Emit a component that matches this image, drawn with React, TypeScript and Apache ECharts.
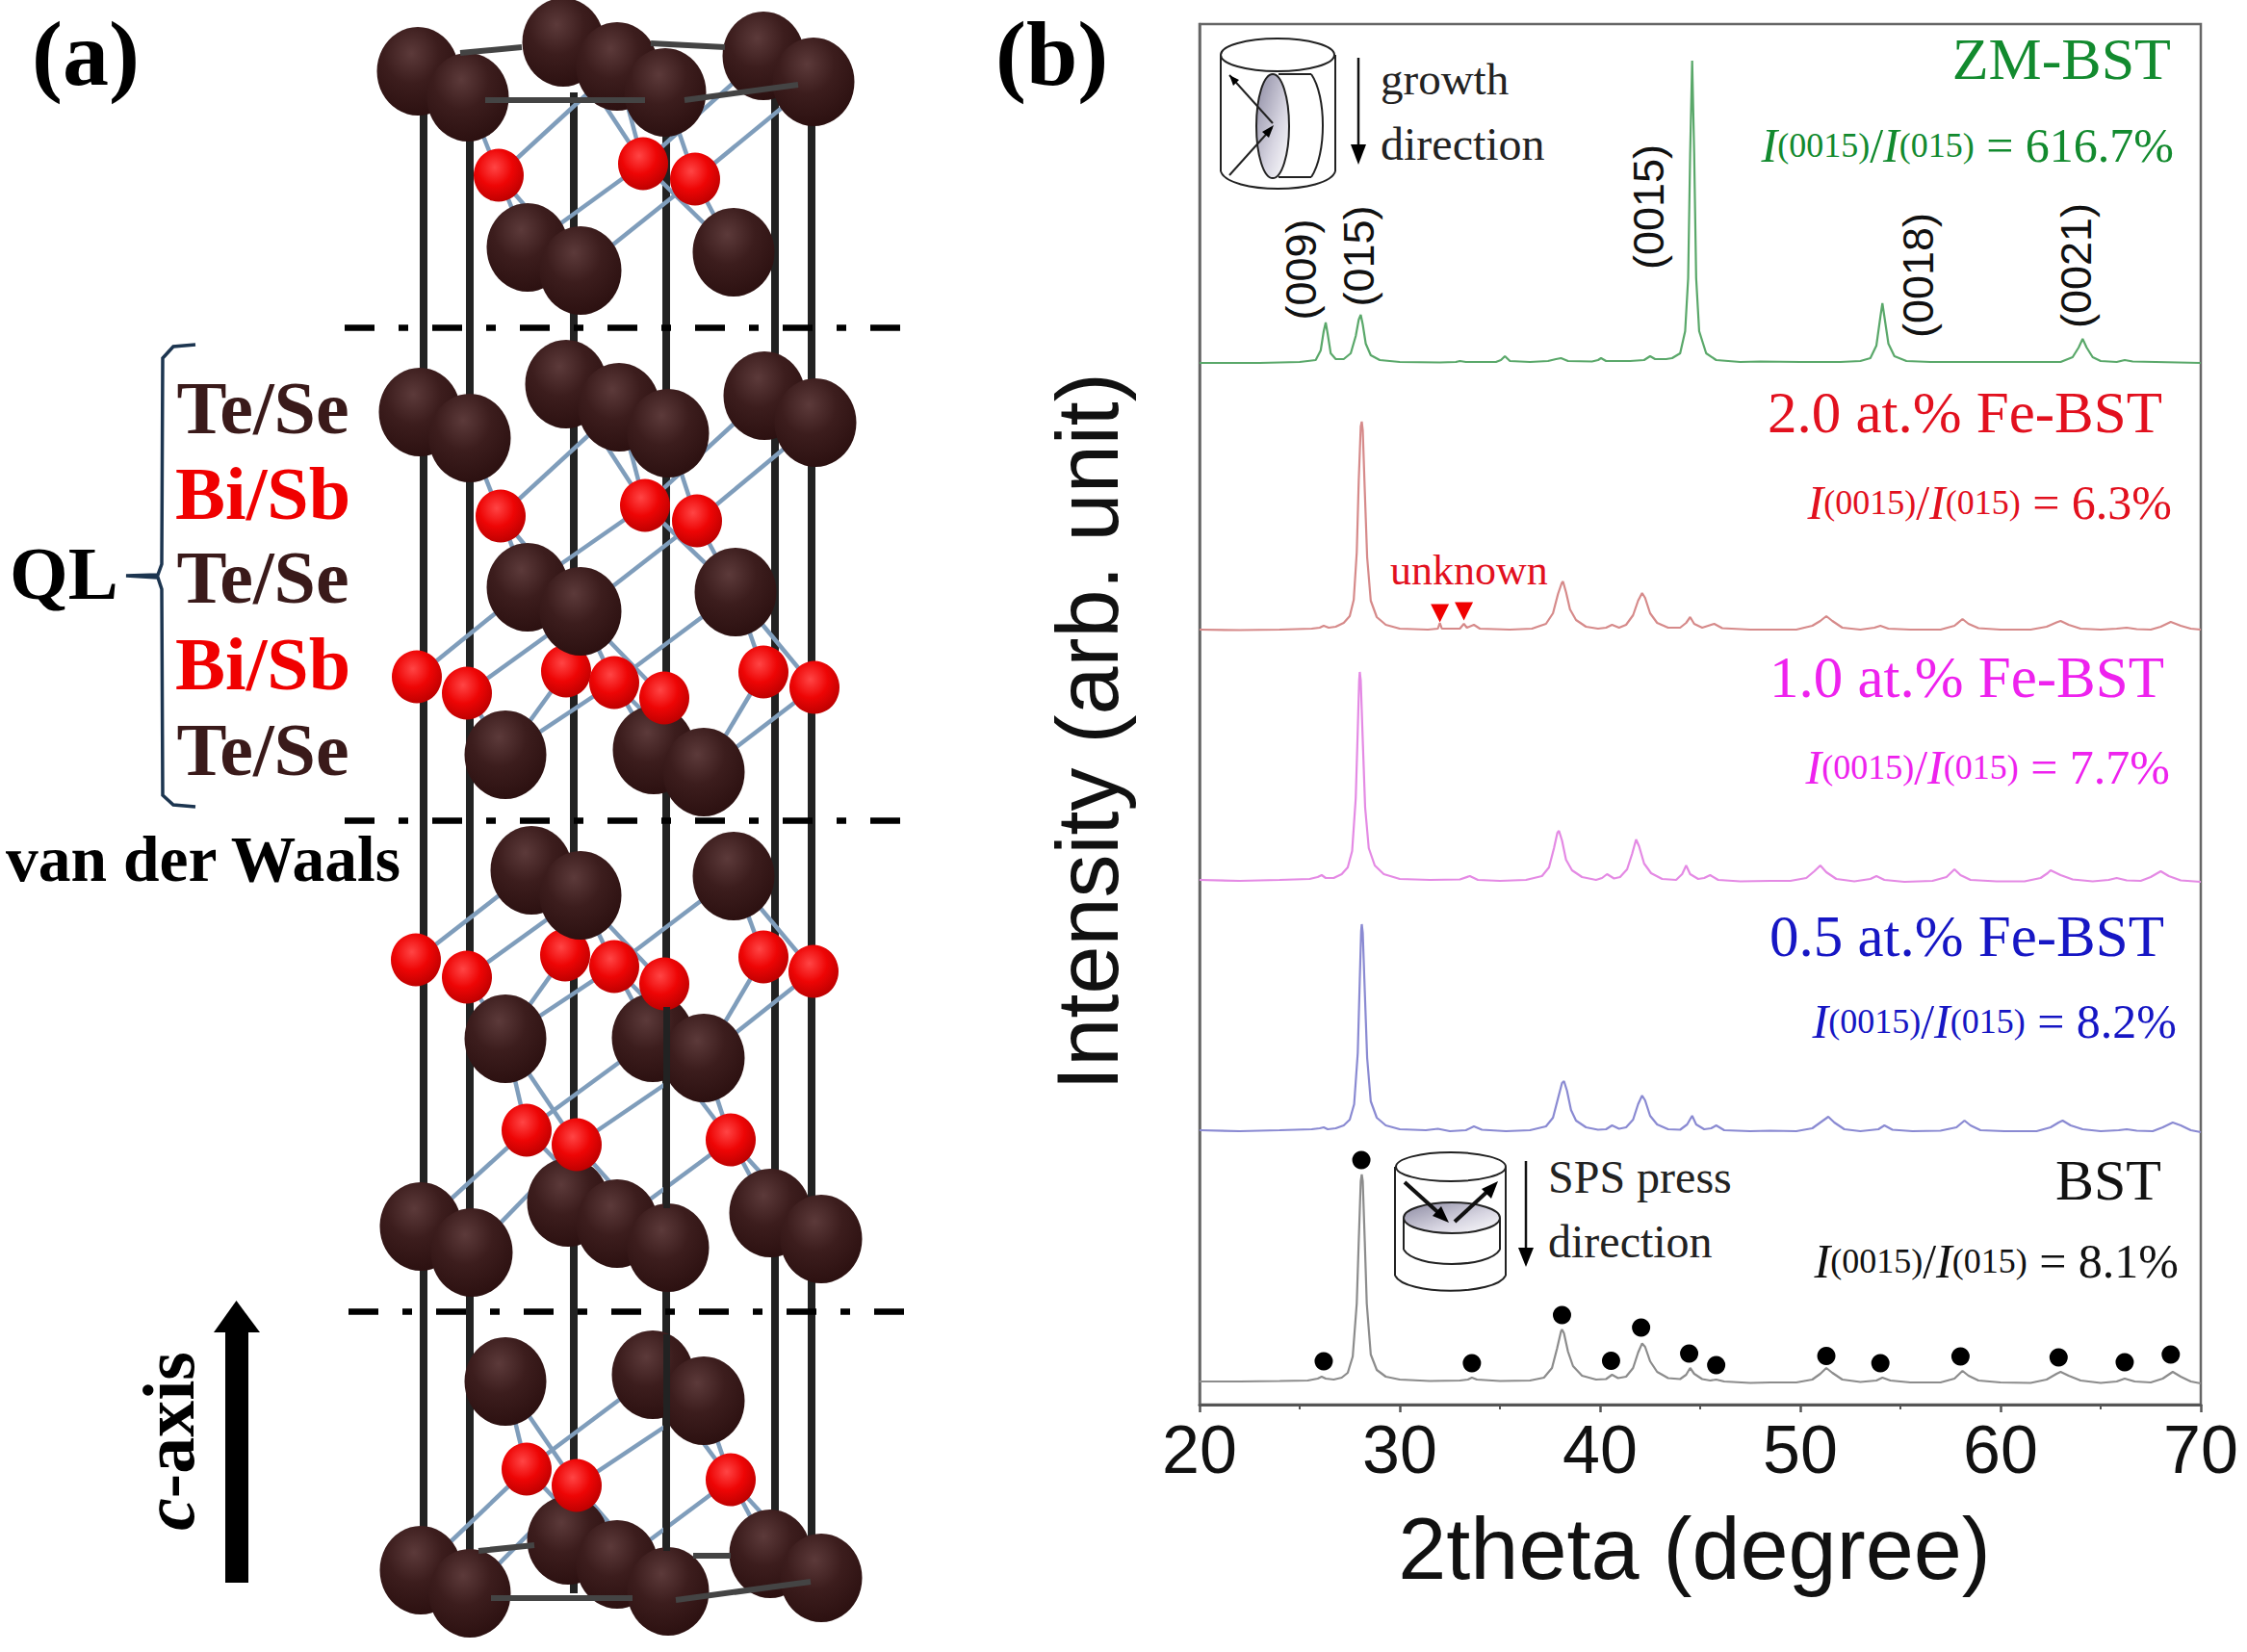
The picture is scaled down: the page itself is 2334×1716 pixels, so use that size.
import React, { useEffect, useRef } from "react";
import * as echarts from "echarts";

// ---------- panel (b): diffraction curves, [2theta, intensity] ----------
const bstCurve = [[20,24],[22,24],[24,24.5],[25.4,25],[25.9,27],[26.1,29],[26.3,27],[26.7,26],[27.1,28],[27.4,33],[27.65,50],[27.85,105],[27.95,170],[28.05,232],[28.1,239],[28.15,232],[28.25,170],[28.35,105],[28.55,52],[28.85,36],[29.3,29],[30,26],[31.5,24.5],[33,25],[33.4,26],[33.6,28],[33.85,26],[35,24.5],[36.5,25],[37.2,28],[37.6,38],[37.85,58],[38.05,76],[38.1,78],[38.2,74],[38.4,55],[38.65,40],[39.1,30],[39.8,26],[40.3,26.5],[40.6,31],[40.9,27.5],[41.3,29],[41.65,38],[41.9,54],[42.1,63.5],[42.25,60],[42.5,45],[42.85,34],[43.4,27.5],[44,26.5],[44.3,31],[44.5,38],[44.7,32],[45.1,26.5],[45.5,25],[45.8,26],[46.2,24],[47.5,22.5],[48.5,23],[49.8,23],[50.6,26],[51,32],[51.3,38],[51.6,33],[52.1,26],[53,23.5],[53.8,25],[54.1,28],[54.5,25],[55.5,23],[57,23],[57.7,27],[58.1,35],[58.4,30],[58.9,25],[60,23],[61.5,22.5],[62.3,26],[62.8,32],[63,34],[63.4,30],[64,25],[65,22.5],[65.8,24],[66.2,27],[66.7,24],[67.5,23],[68.1,27],[68.6,34],[69,29],[69.5,24],[70,22]];
const fe05Curve = [[20,285],[22,284],[24,285],[25.6,286],[26,287],[26.2,288],[26.4,286],[26.8,287],[27.2,290],[27.5,296],[27.72,312],[27.9,365],[28,440],[28.07,492],[28.1,499],[28.15,490],[28.25,430],[28.37,360],[28.55,315],[28.85,298],[29.3,290],[30,286],[31.3,285],[31.9,286.5],[32.5,284],[33.3,285],[33.7,289],[34.1,285.5],[35.3,284],[36.5,285],[37.3,289],[37.65,298],[37.9,318],[38.1,334],[38.2,336],[38.35,326],[38.55,306],[38.8,295],[39.3,288],[39.9,285.5],[40.3,286],[40.6,290],[40.95,286.5],[41.3,288],[41.65,296],[41.9,312],[42.1,321],[42.25,316],[42.5,300],[42.85,291],[43.4,286],[44,285.5],[44.35,291],[44.6,300],[44.8,291],[45.2,286],[45.55,287],[45.8,290],[46.2,285],[47.5,284],[48.5,284.5],[49.8,284],[50.6,287],[51,293],[51.4,299],[51.7,293],[52.2,286],[53,284],[53.9,286],[54.2,290],[54.6,285.5],[55.6,284],[57,284.5],[57.8,288],[58.2,295],[58.5,290],[59,285],[60.2,284],[61.8,284],[62.5,288],[62.9,293],[63.1,295],[63.5,290],[64.1,286],[65,284],[65.9,285],[66.3,286],[66.8,284.5],[67.6,284],[68.1,288],[68.6,293],[69,290],[69.5,285],[70,283]];
const fe10Curve = [[20,545],[22,544],[24,545],[25.5,546],[25.9,548],[26.1,550],[26.3,547],[26.7,547],[27.1,551],[27.4,558],[27.62,575],[27.8,630],[27.9,700],[27.97,752],[28,761],[28.05,752],[28.15,690],[28.27,620],[28.45,578],[28.75,560],[29.2,551],[30,546],[31.5,545],[33,545.5],[33.5,549],[33.9,545],[35,544],[36.3,545],[37.1,549],[37.45,558],[37.7,578],[37.87,594],[37.95,596],[38.1,586],[38.3,566],[38.6,555],[39.1,548],[39.8,545],[40.1,547],[40.35,551],[40.7,546.5],[41,548],[41.35,556],[41.6,572],[41.8,587],[41.95,580],[42.2,562],[42.55,552],[43.1,546],[43.8,545],[44.1,551],[44.3,560],[44.5,551],[44.9,546],[45.2,547],[45.5,550],[45.9,545],[47,543.5],[48.5,544],[49.5,544],[50.3,547],[50.7,554],[51,560],[51.3,553],[51.8,546],[52.7,543.5],[53.5,546],[53.8,549],[54.2,545],[55.2,543],[56.6,544],[57.3,548],[57.7,556],[58,550],[58.5,545],[59.8,543.5],[61.2,543.5],[62,547],[62.35,552],[62.5,555],[63,550],[63.6,545.5],[64.6,543.5],[65.4,545],[65.8,547],[66.3,544.5],[67,544],[67.5,548],[68,554],[68.4,549],[69,544.5],[70,543]];
const fe20Curve = [[20,805],[22,804.5],[24,805],[25.6,806],[26,807],[26.2,809],[26.45,807],[26.8,808],[27.2,812],[27.5,819],[27.7,836],[27.85,885],[27.95,960],[28.05,1016],[28.1,1021],[28.15,1012],[28.25,950],[28.37,880],[28.55,835],[28.85,818],[29.3,810],[30,806],[31.4,805],[31.9,806],[32,812],[32.1,806],[33,806],[33.2,811],[33.35,807],[33.7,810],[34,806],[35.5,805],[36.6,806],[37.3,811],[37.65,822],[37.9,842],[38.08,853],[38.15,855],[38.3,844],[38.5,826],[38.8,815],[39.3,808],[39.9,806],[40.3,807],[40.6,810],[40.95,807],[41.3,810],[41.65,820],[41.9,835],[42.1,843],[42.25,838],[42.5,822],[42.85,812],[43.4,807],[44,807],[44.3,812],[44.5,818],[44.7,811],[45.1,807],[45.4,809],[45.7,811],[46.1,806.5],[47.5,805],[48.5,805],[49.8,805],[50.6,809],[51,814],[51.3,819],[51.6,814],[52.1,807],[53,805],[53.7,807],[54,809],[54.4,806],[55.5,805],[57,805],[57.7,809],[58.1,816],[58.4,811],[58.9,806.5],[60,805],[61.5,805],[62.3,808],[62.8,812.5],[63,814],[63.4,810],[64,806],[65,805],[65.8,806],[66.3,807],[66.8,805.5],[67.5,805],[68,808],[68.5,813],[69,809],[69.5,806],[70,805]];
const zmCurve = [[20,1082],[23,1082],[25,1083],[25.8,1085],[26.05,1095],[26.2,1115],[26.3,1124],[26.4,1112],[26.55,1092],[26.8,1086],[27.2,1086],[27.55,1092],[27.8,1110],[27.95,1127],[28.05,1132],[28.15,1122],[28.3,1102],[28.55,1090],[29,1085],[30,1083],[32,1082.5],[32.8,1083],[33,1084],[33.3,1083],[34.8,1083],[35.05,1085],[35.25,1089],[35.5,1084],[36.5,1083],[37.4,1084],[37.8,1086],[38.05,1087],[38.4,1084],[39.6,1083.5],[39.9,1085],[40.05,1087],[40.3,1084],[41.5,1084],[42.2,1085],[42.5,1089],[42.75,1086],[43.3,1086],[43.6,1087],[44,1092],[44.25,1115],[44.4,1170],[44.5,1300],[44.6,1396],[44.7,1300],[44.8,1170],[44.95,1115],[45.3,1092],[45.8,1085],[47,1083],[48,1083.5],[50,1083],[52,1083],[53,1084],[53.5,1087],[53.8,1100],[54,1130],[54.1,1144],[54.2,1130],[54.4,1102],[54.7,1089],[55.3,1084],[56.5,1083],[60,1083],[63,1083],[63.6,1088],[63.9,1098],[64.1,1107],[64.3,1098],[64.6,1088],[65,1084],[65.8,1083],[66.2,1085],[66.6,1083.5],[70,1082]];
const bstDots = [[28.08,254],[26.2,45],[33.6,43],[38.1,93],[40.55,45.5],[42.05,80],[44.45,53],[45.8,41],[51.3,50.5],[54,43],[58,50],[62.9,49],[66.2,44],[68.5,52]];
const unknownMarks = [[32,822],[33.2,824]];

// ---------- panel (a): atoms of the crystal drawing, [x, y] on its hidden axes ----------
const dark7A = [[434,74],[486,101],[585,44],[641,69],[691,96],[793,58],[845,85]];
const red3A = [[518,182],[668,170],[722,186]];
const dark3A = [[548,257],[603,281],[762,262]];
const dark7B = [[436,428],[488,455],[588,399],[643,423],[694,450],[794,411],[847,439]];
const red3B = [[520,536],[670,525],[724,541]];
const dark3B = [[548,610],[603,635],[764,615]];
const red7C = [[433,703],[485,720],[588,697],[638,709],[690,725],[793,698],[846,714]];
const dark3C = [[525,784],[679,779],[731,802]];
const dark3D = [[552,904],[603,930],[762,910]];
const red7D = [[432,997],[485,1015],[587,992],[638,1004],[690,1022],[793,994],[845,1009]];
const dark3E = [[525,1079],[678,1078],[731,1099]];
const red3E = [[547,1174],[599,1189],[759,1184]];
const dark7F = [[437,1274],[490,1301],[590,1249],[641,1271],[694,1296],[800,1260],[853,1287]];
const dark3G = [[525,1435],[678,1428],[731,1455]];
const red3G = [[547,1526],[599,1543],[759,1537]];
const dark7H = [[437,1631],[488,1655],[590,1600],[641,1625],[694,1653],[800,1614],[853,1639]];

// which atoms are bonded: index pairs
const link73 = [[1,0],[3,0],[2,1],[3,1],[5,1],[4,2],[6,2]];
const link33 = [[0,0],[0,1],[1,0],[1,2],[2,1],[2,2]];
const link37 = [[0,0],[1,1],[2,3],[2,5],[2,6],[1,2],[1,3],[1,4]];
const link73b = [[1,0],[3,0],[2,0],[3,1],[3,2],[4,1],[4,2],[5,2],[6,2]];
const link33e = [[0,0],[0,1],[1,0],[2,1],[2,2],[1,2]];
const link37f = [[0,0],[1,1],[0,3],[1,3],[1,4],[2,3],[2,5],[2,6]];

const frameX = [440,488,596,692,805,843];
const frameTop = 96;
const frameBottom = 1655;
const frontFrame = [[692,1046,1255],[692,1386,1611]];
const hexEdges = [[[504,104],[670,104]],[[711,104],[829,88]],[[478,55],[542,49]],[[676,45],[753,49]],[[510,1660],[657,1660]],[[702,1662],[842,1643]],[[497,1611],[555,1605]],[[720,1616],[759,1616]]];
const dashRows = [[358,941,340],[358,941,852],[362,944,1362]];
const bracePoints = [[203,358],[180,360],[169,372],[168,586],[164,597],[131,598],[164,600],[168,612],[169,826],[180,836],[203,838]];

// ---------- texts ----------
const leftLayers = [["Te/Se",450,"#3a1a1a"],["Bi/Sb",539,"#f00000"],["Te/Se",626,"#3a1a1a"],["Bi/Sb",716,"#f00000"],["Te/Se",805,"#3a1a1a"]];
const sampleNames = [["ZM-BST",2255,82,"#128a2e",62],["2.0 at.% Fe-BST",2246,449,"#e2101e",61],["1.0 at.% Fe-BST",2248,724,"#ee22ee",61],["0.5 at.% Fe-BST",2248,993,"#1616c4",61],["BST",2245,1246,"#111111",60]];
const ratios = [["616.7%",2258,167,"#128a2e"],["6.3%",2256,538,"#e2101e"],["7.7%",2254,813,"#ee22ee"],["8.2%",2261,1077,"#1616c4"],["8.1%",2263,1326,"#111111"]];
const peakLabels = [["(009)",1351,280],["(015)",1411,266],["(0015)",1712,215],["(0018)",1992,286],["(0021)",2156,276]];

const SERIF = "Liberation Serif";
const SANS = "Liberation Sans";

function text(t: string, x: number, base: number, size: number, fill: string, extra: any = {}, align = "left") {
  return {
    type: "text", x, y: base - 0.3375 * size, z: 10, silent: true,
    style: { text: t, fontFamily: SERIF, fontSize: size, fill, align, verticalAlign: "middle", ...extra },
  };
}
function ratioText(pct: string, right: number, base: number, fill: string) {
  const big = { fontFamily: SERIF, fontSize: 50, fill };
  const ital = { ...big, fontStyle: "italic" };
  const sub = { fontFamily: SERIF, fontSize: 36, fill };
  return {
    type: "text", x: right, y: base - 16, z: 10, silent: true,
    style: {
      text: `{i|I}{s|(0015)}{n|/}{i|I}{s|(015)}{n| = ${pct}}`,
      align: "right", verticalAlign: "middle", fontFamily: SERIF, fontSize: 50, fill,
      rich: { i: ital, s: sub, n: big },
    },
  };
}
function line(x1: number, y1: number, x2: number, y2: number, lineWidth = 2, stroke = "#222") {
  return { type: "line", z: 6, silent: true, shape: { x1, y1, x2, y2 }, style: { stroke, lineWidth, fill: "none" } };
}
function curve(x1: number, y1: number, cpx1: number, cpy1: number, cpx2: number, cpy2: number, x2: number, y2: number, lineWidth = 2) {
  return { type: "bezierCurve", z: 6, silent: true, shape: { x1, y1, cpx1, cpy1, cpx2, cpy2, x2, y2 }, style: { stroke: "#222", lineWidth, fill: "none" } };
}
function ellipse(cx: number, cy: number, rx: number, ry: number, fill: any, lineWidth = 2) {
  return { type: "ellipse", z: 6, silent: true, shape: { cx, cy, rx, ry }, style: { fill, stroke: "#222", lineWidth } };
}
function arrowHead(points: number[][], z = 7) {
  return { type: "polygon", z, silent: true, shape: { points }, style: { fill: "#000" } };
}

const discFill = { type: "linear", x: 0, y: 0, x2: 1, y2: 1, colorStops: [{ offset: 0, color: "#8a88a0" }, { offset: 0.6, color: "#d8d6e2" }, { offset: 1, color: "#ffffff" }] };

const insets = [
  // upper inset: growth direction
  ellipse(1327, 57, 59, 17, "#fff"),
  line(1268, 57, 1268, 178), line(1387, 57, 1387, 178),
  curve(1268, 178, 1276, 202, 1379, 202, 1387, 178),
  ellipse(1322, 131, 17, 54, discFill),
  line(1328, 77, 1362, 77), line(1328, 184, 1362, 184),
  curve(1362, 77, 1378, 100, 1378, 160, 1362, 184),
  line(1277, 78, 1322, 128), arrowHead([[1277, 78], [1287, 83], [1281, 89]]),
  line(1277, 182, 1321, 133), arrowHead([[1323, 130], [1318, 143], [1311, 137]]),
  line(1411, 60, 1411, 152, 2.5, "#111"), arrowHead([[1403, 150], [1419, 150], [1411, 171]]),
  // lower inset: SPS press direction
  ellipse(1507, 1212, 57, 15, "#fff"),
  line(1449, 1212, 1449, 1325), line(1564, 1212, 1564, 1325),
  curve(1449, 1325, 1460, 1346, 1553, 1346, 1564, 1325),
  line(1458, 1265, 1458, 1298), line(1558, 1265, 1558, 1298),
  curve(1458, 1298, 1470, 1318, 1546, 1318, 1558, 1298),
  ellipse(1508, 1265, 50, 16, discFill),
  line(1459, 1228, 1500, 1265, 4, "#111"), arrowHead([[1505, 1270], [1488, 1263], [1497, 1253]]),
  line(1511, 1269, 1550, 1233, 4, "#111"), arrowHead([[1556, 1227], [1549, 1245], [1539, 1235]]),
  line(1585, 1206, 1585, 1298, 2.5, "#111"), arrowHead([[1577, 1296], [1593, 1296], [1585, 1316]]),
];

const texts = [
  text("(a)", 33, 88, 96, "#000", { fontWeight: "bold" }),
  text("(b)", 1034, 88, 96, "#000", { fontWeight: "bold" }),
  text("QL", 10, 622, 78, "#000", { fontWeight: "bold" }),
  text("van der Waals", 6, 915, 67.5, "#000", { fontWeight: "bold" }),
  ...leftLayers.map(([t, b, c]) => text(t as string, 273, b as number, 78, c as string, { fontWeight: "bold" }, "center")),
  ...sampleNames.map(([t, r, b, c, s]) => text(t as string, r as number, b as number, s as number, c as string, {}, "right")),
  ...ratios.map(([p, r, b, c]) => ratioText(p as string, r as number, b as number, c as string)),
  text("unknown", 1444, 607, 44, "#e2101e"),
  text("growth", 1434, 98, 47, "#222"),
  text("direction", 1434, 166, 48, "#222"),
  text("SPS press", 1608, 1239, 48, "#222"),
  text("direction", 1608, 1306, 48, "#222"),
  ...peakLabels.map(([t, x, y]) => ({
    type: "text", x, y, rotation: Math.PI / 2, z: 10, silent: true,
    style: { text: t, fontFamily: SANS, fontSize: 45, fill: "#111", align: "center", verticalAlign: "middle" },
  })),
  {
    type: "text", x: 175, y: 1497, rotation: Math.PI / 2, z: 10, silent: true,
    style: {
      text: "{c|c}{a|-axis}", align: "center", verticalAlign: "middle", fontFamily: SERIF, fontSize: 76,
      rich: {
        c: { fontFamily: SERIF, fontSize: 76, fontWeight: "bold", fontStyle: "italic", fill: "#000" },
        a: { fontFamily: SERIF, fontSize: 76, fontWeight: "bold", fill: "#000" },
      },
    },
  },
];

const cAxisArrow = [
  { type: "rect", z: 7, silent: true, shape: { x: 234, y: 1384, width: 24, height: 260 }, style: { fill: "#000" } },
  arrowHead([[245.5, 1351], [222, 1384], [270, 1384]]),
];

const darkFill = { type: "radial", x: 0.42, y: 0.3, r: 0.75, colorStops: [{ offset: 0, color: "#5c3a3a" }, { offset: 0.45, color: "#3c1d1d" }, { offset: 1, color: "#2a0f0f" }] };
const redFill = { type: "radial", x: 0.42, y: 0.35, r: 0.7, colorStops: [{ offset: 0, color: "#ff4545" }, { offset: 0.5, color: "#ee0505" }, { offset: 1, color: "#b80000" }] };

const darkAtom = (p: number[]) => ({ value: p, symbolSize: [85, 92], itemStyle: { color: darkFill, opacity: 1 } });
const redAtom = (p: number[]) => ({ value: p, symbolSize: [52, 55], itemStyle: { color: redFill, opacity: 1 } });
const atoms = [
  ...dark7A.map(darkAtom), ...dark3A.map(darkAtom), ...red3A.map(redAtom),
  ...dark7B.map(darkAtom), ...red3B.map(redAtom),
  ...dark3C.map(darkAtom), ...red7C.map(redAtom), ...dark3B.map(darkAtom),
  ...dark3E.map(darkAtom), ...red7D.map(redAtom), ...dark3D.map(darkAtom),
  ...dark7F.map(darkAtom), ...red3E.map(redAtom),
  ...dark3G.map(darkAtom), ...dark7H.map(darkAtom), ...red3G.map(redAtom),
];

const joins = (a: number[][], b: number[][], pairs: number[][]) => pairs.map(([i, j]) => ({ coords: [a[i], b[j]] }));
const bonds = [
  ...joins(dark7A, red3A, link73), ...joins(red3A, dark3A, link33),
  ...joins(dark7B, red3B, link73), ...joins(red3B, dark3B, link33),
  ...joins(dark3B, red7C, link37), ...joins(red7C, dark3C, link73b),
  ...joins(dark3D, red7D, link37), ...joins(red7D, dark3E, link73b),
  ...joins(dark3E, red3E, link33e), ...joins(red3E, dark7F, link37f),
  ...joins(dark3G, red3G, link33e), ...joins(red3G, dark7H, link37f),
];

const panelA = { xAxisIndex: 1, yAxisIndex: 1, coordinateSystem: "cartesian2d", silent: true };
const curveSeries = (name: string, data: number[][], color: string, width = 2.2) => ({
  name, type: "line", data, xAxisIndex: 0, yAxisIndex: 0, showSymbol: false, symbol: "none", z: 3, silent: true,
  lineStyle: { color, width },
});

const option: any = {
  animation: false,
  backgroundColor: "#ffffff",
  grid: [
    { left: 1246, top: 25, width: 1040, height: 1434, show: true, borderColor: "#666", borderWidth: 2.5, backgroundColor: "transparent" },
    { left: 0, top: 0, width: 1000, height: 1716 },
  ],
  xAxis: [
    {
      gridIndex: 0, type: "value", min: 20, max: 70, interval: 10,
      name: "2theta (degree)", nameLocation: "middle", nameGap: 105,
      nameTextStyle: { fontFamily: SANS, fontSize: 90, color: "#111", padding: [0, 12, 0, 0] },
      axisLine: { show: true, lineStyle: { color: "#555", width: 3 } },
      axisTick: { show: true, length: 8, inside: false, lineStyle: { color: "#555", width: 2.5 } },
      minorTick: { show: true, splitNumber: 2, length: 5, lineStyle: { color: "#555", width: 2 } },
      axisLabel: { fontFamily: SANS, fontSize: 70, color: "#111", margin: 12 },
      splitLine: { show: false },
    },
    { gridIndex: 1, type: "value", min: 0, max: 1000, show: false },
  ],
  yAxis: [
    {
      gridIndex: 0, type: "value", min: 0, max: 1434,
      name: "Intensity (arb. unit)", nameLocation: "middle", nameGap: 71, nameRotate: 90,
      nameTextStyle: { fontFamily: SANS, fontSize: 90, color: "#111", padding: [0, 36, 0, 0] },
      axisLine: { show: true, lineStyle: { color: "#666", width: 2.5 } },
      axisTick: { show: false }, axisLabel: { show: false }, splitLine: { show: false },
    },
    { gridIndex: 1, type: "value", min: 0, max: 1716, inverse: true, show: false },
  ],
  graphic: { elements: [...insets, ...texts, ...cAxisArrow] },
  series: [
    curveSeries("BST", bstCurve, "#8c8c8c"),
    curveSeries("0.5 at.% Fe-BST", fe05Curve, "#8a8ad2"),
    curveSeries("1.0 at.% Fe-BST", fe10Curve, "#e48ae4"),
    curveSeries("2.0 at.% Fe-BST", fe20Curve, "#d68a8a"),
    curveSeries("ZM-BST", zmCurve, "#5aa86a"),
    {
      name: "BST peaks", type: "scatter", data: bstDots, xAxisIndex: 0, yAxisIndex: 0, symbol: "circle", symbolSize: 19, z: 4, silent: true,
      itemStyle: { color: "#000", opacity: 1 },
    },
    {
      name: "unknown peaks", type: "scatter", data: unknownMarks, xAxisIndex: 0, yAxisIndex: 0, symbol: "triangle", symbolRotate: 180, symbolSize: [19, 19], z: 4, silent: true,
      itemStyle: { color: "#f00000", opacity: 1 },
    },
    {
      name: "frame", type: "lines", ...panelA, z: 1, polyline: false,
      data: frameX.map((x) => ({ coords: [[x, frameTop], [x, frameBottom]] })),
      lineStyle: { color: "#222222", width: 8, opacity: 1, curveness: 0 },
    },
    {
      name: "bonds", type: "lines", ...panelA, z: 2, polyline: false, data: bonds,
      lineStyle: { color: "#7f9dbb", width: 4.5, opacity: 1, curveness: 0 },
    },
    { name: "atoms", type: "scatter", ...panelA, z: 3, symbol: "circle", data: atoms, itemStyle: { opacity: 1 } },
    {
      name: "frame front", type: "lines", ...panelA, z: 4, polyline: false,
      data: frontFrame.map(([x, a, b]) => ({ coords: [[x, a], [x, b]] })),
      lineStyle: { color: "#222222", width: 7, opacity: 1, curveness: 0 },
    },
    {
      name: "hexagon", type: "lines", ...panelA, z: 5, polyline: false,
      data: hexEdges.map((coords) => ({ coords })),
      lineStyle: { color: "#444444", width: 6, opacity: 1, curveness: 0 },
    },
    {
      name: "layer gaps", type: "lines", ...panelA, z: 6, polyline: false,
      data: dashRows.map(([a, b, y]) => ({ coords: [[a, y], [b, y]] })),
      lineStyle: { color: "#000000", width: 6.5, opacity: 1, type: [31, 25, 10, 25], curveness: 0 },
    },
    {
      name: "brace", type: "lines", ...panelA, z: 6, polyline: true,
      data: [{ coords: bracePoints }],
      lineStyle: { color: "#1c3550", width: 3.5, opacity: 1 },
    },
  ],
};

export default function App() {
  const ref = useRef<HTMLDivElement>(null);
  useEffect(() => {
    const chart = echarts.init(ref.current as HTMLDivElement, undefined, { renderer: "svg" });
    chart.setOption(option);
    return () => chart.dispose();
  }, []);
  return <div ref={ref} style={{ position: "absolute", left: 0, top: 0, width: 2334, height: 1716 }} />;
}
